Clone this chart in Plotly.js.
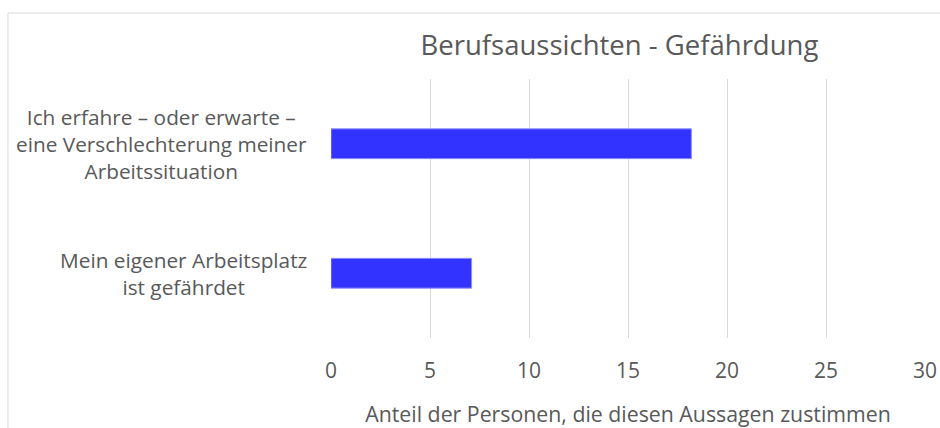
<!DOCTYPE html>
<html>
<head>
<meta charset="utf-8">
<script src="https://cdn.plot.ly/plotly-3.0.1.min.js"></script>
<style>
  body { margin: 0; background: #fff; }
  #plot { width: 940px; height: 428px; }
</style>
</head>
<body>
<div id="plot"></div>
<script>
const categories = [
  'Mein eigener Arbeitsplatz<br>ist gefährdet',
  'Ich erfahre – oder erwarte –<br>eine Verschlechterung meiner<br>Arbeitssituation'
];
const values = [7.1, 18.2];
const xTicks = [0, 5, 10, 15, 20, 25, 30];

const font = '"Open Sans", Lato, sans-serif';
const grey = '#595959';

const trace = {
  type: 'bar',
  orientation: 'h',
  y: categories,
  x: values,
  width: 0.23,
  marker: { color: '#3333ff', line: { color: '#8c8cff', width: 1 } },
  hoverinfo: 'x+y'
};

// category labels as annotations so every line is centred
const labels = categories.map(c => ({
  xref: 'paper', yref: 'y',
  x: 0, y: c,
  xanchor: 'right', xshift: -22,
  align: 'center',
  showarrow: false,
  text: c,
  font: { family: font, size: 20.8, color: grey }
}));

const layout = {
  width: 940,
  height: 428,
  margin: { l: 331, r: 15, t: 79, b: 90 },
  paper_bgcolor: '#fff',
  plot_bgcolor: '#fff',
  showlegend: false,
  title: {
    text: 'Berufsaussichten - Gefährdung',
    font: { family: font, size: 27.5, color: grey },
    x: 0.659, xanchor: 'center',
    y: 0.895, yanchor: 'middle'
  },
  xaxis: {
    range: [0, 30],
    tickvals: xTicks,
    ticktext: xTicks.map(String),
    showgrid: true,
    gridcolor: '#d9d9d9',
    gridwidth: 1,
    zeroline: false,
    showline: false,
    ticks: '',
    tickfont: { family: font, size: 21, color: grey },
    ticklabelstandoff: 18,
    title: {
      text: 'Anteil der Personen, die diesen Aussagen zustimmen',
      font: { family: font, size: 21.3, color: grey },
      standoff: 24
    }
  },
  yaxis: {
    showticklabels: false,
    showgrid: false,
    zeroline: false,
    showline: false,
    ticks: ''
  },
  annotations: labels,
  shapes: [{
    type: 'rect',
    xref: 'paper', yref: 'paper',
    x0: -0.5438, x1: 1.2, y0: -0.5, y1: 1.2548,
    line: { color: '#d9d9d9', width: 1 },
    fillcolor: 'rgba(0,0,0,0)',
    layer: 'below'
  }]
};

Plotly.newPlot('plot', [trace], layout, { displayModeBar: false, staticPlot: true });
</script>
</body>
</html>
